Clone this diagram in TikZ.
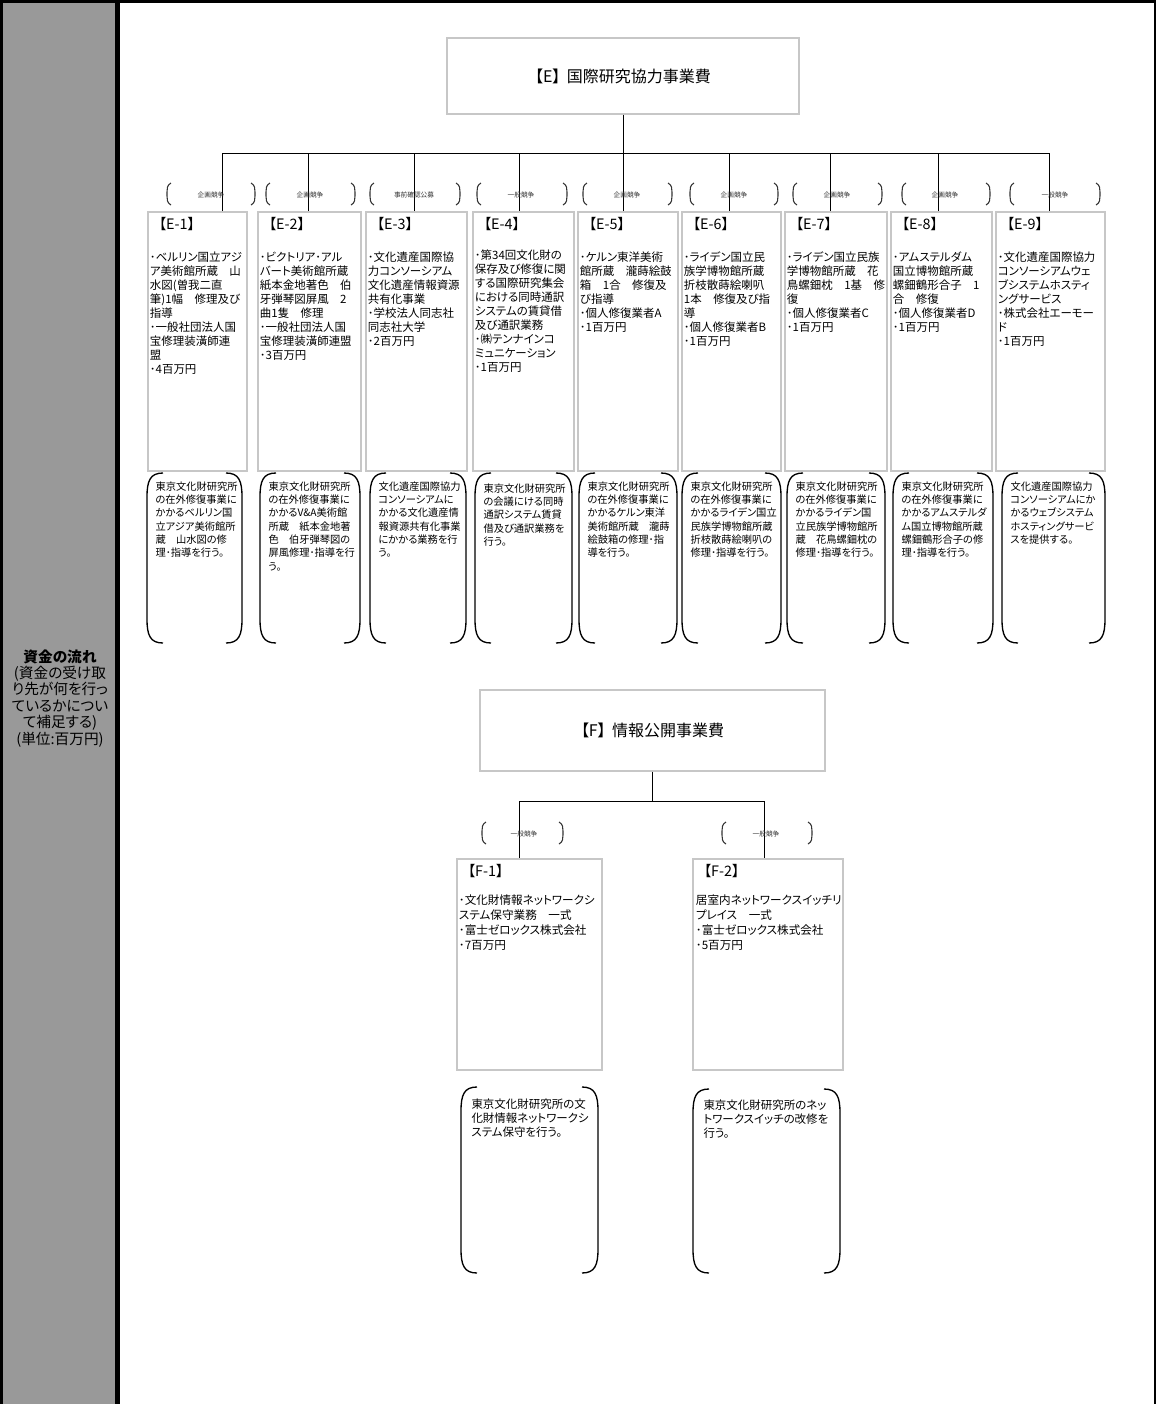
\documentclass[tikz,border=0pt]{standalone}
\usepackage{fontspec}
\setmainfont[RawFeature=+palt]{Noto Sans CJK JP}
\usetikzlibrary{fit,calc}
\definecolor{colgray}{HTML}{999999}

\begin{document}
\begin{tikzpicture}[x=0.75pt, y=-0.75pt, line width=0.75pt,
    box/.style={draw=black!22, line width=0.8pt, inner sep=0pt},
    title/.style={inner sep=0pt, font=\fontsize{12}{14}\selectfont},
    hd/.style={anchor=west, inner sep=0pt, font=\fontsize{10.8}{12}\selectfont},
    body/.style={anchor=north west, inner sep=0pt, align=left, font=\fontsize{8.6}{10.5}\selectfont},
    fbody/.style={anchor=north west, inner sep=0pt, align=left, font=\fontsize{8.7}{11.2}\selectfont},
    note/.style={anchor=north west, inner sep=0pt, align=left, font=\fontsize{7.7}{10}\selectfont},
    kind/.style={inner sep=0pt, text=black!80, font=\fontsize{5}{6}\selectfont},
    pics/bigparen/.style args={#1/#2}{code={
        \draw[line width=1pt] (16,0) .. controls (3,0) and (0,8) .. (0,24) -- (0,#2-24) .. controls (0,#2-8) and (3,#2) .. (16,#2);
        \draw[line width=1pt] (#1-16,0) .. controls (#1-3,0) and (#1,8) .. (#1,24) -- (#1,#2-24) .. controls (#1,#2-8) and (#1-3,#2) .. (#1-16,#2);
    }},
    pics/smallparen/.style args={#1/#2}{code={
        \draw[line width=0.8pt, black!80] (4,0) .. controls (0,2) and (0,6) .. (0,9) -- (0,#2-9) .. controls (0,#2-6) and (0,#2-2) .. (4,#2);
        \draw[line width=0.8pt, black!80] (#1-4,0) .. controls (#1,2) and (#1,6) .. (#1,9) -- (#1,#2-9) .. controls (#1,#2-6) and (#1,#2-2) .. (#1-4,#2);
    }}]
    \useasboundingbox (0,0) rectangle (1156,1404);

    % 枠と左の見出し欄
    \fill[colgray] (3,3) rectangle (115,1404);
    \fill (0,0) rectangle (1156,3);
    \fill (0,0) rectangle (3,1404);
    \fill (115,0) rectangle (120,1404);
    \fill (1154,0) rectangle (1156,1404);
    \node[anchor=north, inner sep=0pt, align=center, font=\fontsize{11}{12.3}\selectfont] (flow) at (60,649)
        {\textbf{資金の流れ}\\(資金の受け取\\り先が何を行っ\\ているかについ\\て補足する)\\(単位:百万円)};

    % 【E】国際研究協力事業費
    \node[box, fit={(447,38) (799,114)}] (etop) {};
    \node[title] (etitle) at (etop.center) {【E】\kern0.4em 国際研究協力事業費};
    \coordinate (b1) at (222,153);
    \coordinate (b2) at (308,153);
    \coordinate (b3) at (414,153);
    \coordinate (b4) at (519,153);
    \coordinate (b5) at (623,153);
    \coordinate (b6) at (729,153);
    \coordinate (b7) at (830,153);
    \coordinate (b8) at (938,153);
    \coordinate (b9) at (1049,153);
    \draw (etop.south) -- (etop.south |- b5);
    \draw (b1) -- (b9);

    % E-1 ～ E-9 の箱
    \node[box, fit={(148,212) (247,471)}] (e1) {};
    \node[box, fit={(258,212) (361,471)}] (e2) {};
    \node[box, fit={(366,212) (467,471)}] (e3) {};
    \node[box, fit={(473,212) (574,471)}] (e4) {};
    \node[box, fit={(578,212) (678,471)}] (e5) {};
    \node[box, fit={(682,212) (781,471)}] (e6) {};
    \node[box, fit={(785,212) (887,471)}] (e7) {};
    \node[box, fit={(891,212) (992,471)}] (e8) {};
    \node[box, fit={(996,212) (1105,471)}] (e9) {};
    \foreach \n in {1,...,9}
        \draw (b\n) -- (b\n |- e\n.north);

    % 契約方式
    \pic at (167,183) {smallparen=88/22};
    \pic at (266,183) {smallparen=89/22};
    \pic at (370,183) {smallparen=90/22};
    \pic at (477,183) {smallparen=90/22};
    \pic at (583,183) {smallparen=89/22};
    \pic at (690,183) {smallparen=88/22};
    \pic at (793,183) {smallparen=89/22};
    \pic at (902,183) {smallparen=88/22};
    \pic at (1010,183) {smallparen=90/22};
    \node[kind] (e1k) at (211,195) {企画競争};
    \node[kind] (e2k) at (310,195) {企画競争};
    \node[kind] (e3k) at (414,195) {事前確認公募};
    \node[kind] (e4k) at (521,195) {一般競争};
    \node[kind] (e5k) at (627,195) {企画競争};
    \node[kind] (e6k) at (734,195) {企画競争};
    \node[kind] (e7k) at (837,195) {企画競争};
    \node[kind] (e8k) at (945,195) {企画競争};
    \node[kind] (e9k) at (1055,195) {一般競争};

    % 見出し
    \foreach \n in {1,...,9}
        \node[hd] (e\n h) at ($(e\n.north west)+(11,13)$) {【E-\n】};

    % 箱の中身
    \node[body] (e1t) at ($(e1.north west)+(2,40)$)
        {･ベルリン国立アジ\\ア美術館所蔵　山\\水図(曽我二直\\筆)1幅　修理及び\\指導\\･一般社団法人国\\宝修理装潢師連\\盟\\･4百万円};
    \node[body] (e2t) at ($(e2.north west)+(2,40)$)
        {･ビクトリア･アル\\バート美術館所蔵\\紙本金地著色　伯\\牙弾琴図屏風　2\\曲1隻　修理\\･一般社団法人国\\宝修理装潢師連盟\\･3百万円};
    \node[body] (e3t) at ($(e3.north west)+(2,40)$)
        {･文化遺産国際協\\力コンソーシアム\\文化遺産情報資源\\共有化事業\\･学校法人同志社\\同志社大学\\･2百万円};
    \node[body] (e4t) at ($(e4.north west)+(2,38)$)
        {･第34回文化財の\\保存及び修復に関\\する国際研究集会\\における同時通訳\\システムの賃貸借\\及び通訳業務\\･㈱テンナインコ\\ミュニケーション\\･1百万円};
    \node[body] (e5t) at ($(e5.north west)+(2,40)$)
        {･ケルン東洋美術\\館所蔵　瀧蒔絵鼓\\箱　1合　修復及\\び指導\\･個人修復業者A\\･1百万円};
    \node[body] (e6t) at ($(e6.north west)+(2,40)$)
        {･ライデン国立民\\族学博物館所蔵\\折枝散蒔絵喇叭\\1本　修復及び指\\導\\･個人修復業者B\\･1百万円};
    \node[body] (e7t) at ($(e7.north west)+(2,40)$)
        {･ライデン国立民族\\学博物館所蔵　花\\鳥螺鈿枕　1基　修\\復\\･個人修復業者C\\･1百万円};
    \node[body] (e8t) at ($(e8.north west)+(2,40)$)
        {･アムステルダム\\国立博物館所蔵\\螺鈿鶴形合子　1\\合　修復\\･個人修復業者D\\･1百万円};
    \node[body] (e9t) at ($(e9.north west)+(2,40)$)
        {･文化遺産国際協力\\コンソーシアムウェ\\ブシステムホスティ\\ングサービス\\･株式会社エーモー\\ド\\･1百万円};

    % 補足（丸括弧）
    \pic at (147,473) {bigparen=95/170};
    \pic at (260,473) {bigparen=100/170};
    \pic at (370,473) {bigparen=96/170};
    \pic at (475,473) {bigparen=97/170};
    \pic at (579,473) {bigparen=98/170};
    \pic at (682,473) {bigparen=99/170};
    \pic at (787,473) {bigparen=98/170};
    \pic at (893,473) {bigparen=100/170};
    \pic at (1002,473) {bigparen=103/170};
    \node[note] (e1d) at (155,481)
        {東京文化財研究所\\の在外修復事業に\\かかるベルリン国\\立アジア美術館所\\蔵　山水図の修\\理･指導を行う。};
    \node[note] (e2d) at (268,481)
        {東京文化財研究所\\の在外修復事業に\\かかるV\&A美術館\\所蔵　紙本金地著\\色　伯牙弾琴図の\\屏風修理･指導を行\\う。};
    \node[note] (e3d) at (378,481)
        {文化遺産国際協力\\コンソーシアムに\\かかる文化遺産情\\報資源共有化事業\\にかかる業務を行\\う。};
    \node[note] (e4d) at (483,483)
        {東京文化財研究所\\の会議にける同時\\通訳システム賃貸\\借及び通訳業務を\\行う。};
    \node[note] (e5d) at (587,481)
        {東京文化財研究所\\の在外修復事業に\\かかるケルン東洋\\美術館所蔵　瀧蒔\\絵鼓箱の修理･指\\導を行う。};
    \node[note] (e6d) at (690,481)
        {東京文化財研究所\\の在外修復事業に\\かかるライデン国立\\民族学博物館所蔵\\折枝散蒔絵喇叭の\\修理･指導を行う。};
    \node[note] (e7d) at (795,481)
        {東京文化財研究所\\の在外修復事業に\\かかるライデン国\\立民族学博物館所\\蔵　花鳥螺鈿枕の\\修理･指導を行う。};
    \node[note] (e8d) at (901,481)
        {東京文化財研究所\\の在外修復事業に\\かかるアムステルダ\\ム国立博物館所蔵\\螺鈿鶴形合子の修\\理･指導を行う。};
    \node[note] (e9d) at (1010,481)
        {文化遺産国際協力\\コンソーシアムにか\\かるウェブシステム\\ホスティングサービ\\スを提供する。};

    % 【F】情報公開事業費
    \node[box, fit={(480,690) (825,771)}] (ftop) {};
    \node[title] (ftitle) at (ftop.center) {【F】\kern0.4em 情報公開事業費};
    \coordinate (c1) at (519,801);
    \coordinate (c2) at (764,801);
    \draw (ftop.south) -- (ftop.south |- c1);
    \draw (c1) -- (c2);

    \node[box, fit={(457,859) (602,1070)}] (f1) {};
    \node[box, fit={(693,859) (843,1070)}] (f2) {};
    \draw (c1) -- (c1 |- f1.north);
    \draw (c2) -- (c2 |- f2.north);

    \pic at (482,822) {smallparen=81/22};
    \pic at (722,822) {smallparen=90/22};
    \node[kind] (f1k) at (524,834) {一般競争};
    \node[kind] (f2k) at (766,834) {一般競争};

    \node[hd] (f1h) at ($(f1.north west)+(11,13)$) {【F-1】};
    \node[hd] (f2h) at ($(f2.north west)+(11,13)$) {【F-2】};
    \node[fbody] (f1t) at ($(f1.north west)+(2,36)$)
        {･文化財情報ネットワークシ\\ステム保守業務　一式\\･富士ゼロックス株式会社\\･7百万円};
    \node[fbody] (f2t) at ($(f2.north west)+(3,36)$)
        {居室内ネットワークスイッチリ\\プレイス　一式\\･富士ゼロックス株式会社\\･5百万円};

    \pic at (461,1087) {bigparen=137/186};
    \pic at (693,1089) {bigparen=147/184};
    \node[body] (f1d) at (471,1098)
        {東京文化財研究所の文\\化財情報ネットワークシ\\ステム保守を行う。};
    \node[body] (f2d) at (703,1099)
        {東京文化財研究所のネッ\\トワークスイッチの改修を\\行う。};
\end{tikzpicture}
\end{document}
